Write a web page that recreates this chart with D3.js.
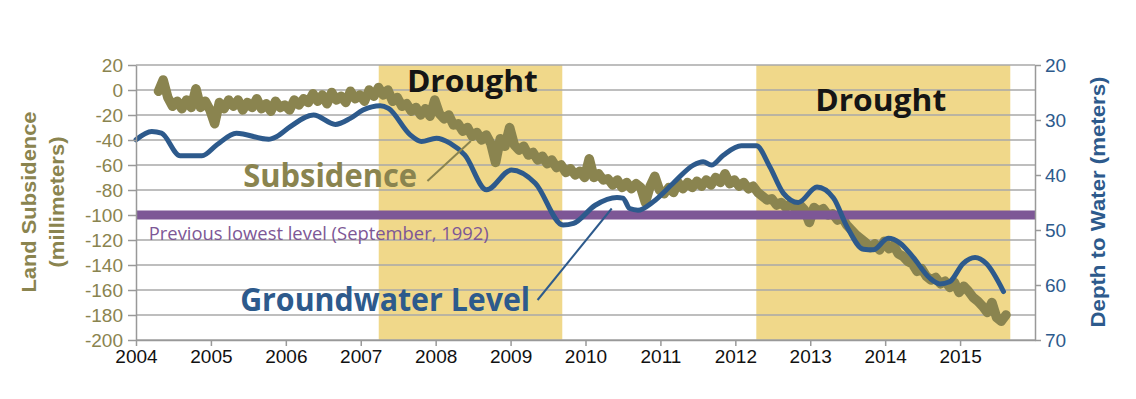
<!DOCTYPE html>
<html>
<head>
<meta charset="utf-8">
<script src="https://cdn.jsdelivr.net/npm/d3@7"></script>
<style>
  html, body { margin: 0; padding: 0; background: #fff; }
  svg { display: block; }
</style>
</head>
<body>
<svg id="chart" width="1136" height="399"></svg>
<script>
// ---------- DATA ----------
const yearTicks = [2004, 2005, 2006, 2007, 2008, 2009, 2010, 2011, 2012, 2013, 2014, 2015];
const leftTicks = [20, 0, -20, -40, -60, -80, -100, -120, -140, -160, -180, -200];
const rightTicks = [20, 30, 40, 50, 60, 70];

const droughtPeriods = [[2007.24, 2009.69], [2012.28, 2015.67]];
const previousLowest = -100; // mm

// Land subsidence (mm) at 1/16-year steps from 2004.30
const subsidenceStart = 2004.30;
const subsidenceStep = 0.0625;
const subsidenceMM = [
  -1, 8, -6, -13, -9, -15, -8, -14, 1, -14, -9, -16, -27, -10, -15, -8,
  -13, -8, -16, -10, -14, -7, -15, -11, -17, -9, -14, -12, -16, -8, -12, -7,
  -10, -3, -9, -4, -11, -2, -8, -5, -10, -1, -7, -4, -9, 0, -5, 2,
  -4, 0, -9, -6, -13, -11, -17, -14, -20, -15, -21, -8, -19, -23, -20, -28,
  -27, -33, -30, -37, -34, -40, -36, -43, -58, -39, -45, -30, -44, -48, -45, -52,
  -50, -56, -53, -59, -56, -62, -60, -66, -63, -68, -65, -70, -55, -70, -67, -72,
  -71, -76, -72, -78, -74, -79, -75, -78, -90, -77, -69, -80, -83, -78, -82, -74,
  -79, -74, -78, -73, -77, -72, -76, -70, -74, -67, -75, -72, -77, -74, -79, -77,
  -82, -85, -88, -87, -92, -90, -94, -91, -95, -92, -96, -106, -94, -97, -95, -100,
  -99, -104, -102, -108, -112, -116, -119, -122, -126, -123, -128, -121, -127, -124, -131, -133,
  -137, -139, -145, -143, -149, -152, -150, -155, -153, -158, -154, -162, -157, -161, -166, -169,
  -173, -178, -170, -182, -185, -180
];

// Groundwater depth to water (m): [year, depth]
const groundwater = [
  [2004.0, 33.6], [2004.21, 32.1], [2004.34, 32.4], [2004.59, 36.5], [2004.88, 36.5],
  [2005.08, 34.5], [2005.34, 32.4], [2005.77, 33.5], [2005.88, 33.0], [2006.06, 31.2],
  [2006.37, 29.1], [2006.66, 30.8], [2006.86, 29.7], [2007.03, 28.2], [2007.26, 27.4],
  [2007.37, 27.9], [2007.66, 32.7], [2007.81, 33.9], [2008.01, 33.3], [2008.19, 34.2],
  [2008.39, 36.4], [2008.68, 42.7], [2009.01, 39.1], [2009.33, 41.5], [2009.70, 49.1],
  [2009.84, 48.8], [2010.13, 45.5], [2010.42, 44.1], [2010.50, 44.2], [2010.59, 46.1],
  [2010.70, 46.4], [2010.90, 44.9], [2011.17, 41.5], [2011.44, 38.2], [2011.57, 37.6],
  [2011.68, 38.2], [2011.84, 36.4], [2012.08, 34.7], [2012.28, 34.7], [2012.46, 38.5],
  [2012.64, 43.3], [2012.84, 45.0], [2013.09, 42.2], [2013.31, 44.2], [2013.49, 49.4],
  [2013.71, 53.5], [2013.84, 53.6], [2014.04, 51.5], [2014.20, 52.4], [2014.37, 54.9],
  [2014.60, 58.8], [2014.73, 59.8], [2014.86, 59.4], [2015.04, 56.1], [2015.20, 55.0],
  [2015.35, 56.1], [2015.58, 61.2]
];

// Labels
const droughtLabels = [[2008.49, -1.6], [2013.94, -16.8]];
const subsidencePointer = [[2007.89, -72.8], [2008.47, -40.8]];
const groundwaterPointer = [[2009.36, -168], [2010.35, -94.8]];

// ---------- STYLES ----------
const OLIVE = "#8a844f";
const BLUE = "#2d5a8c";
const PURPLE = "#7d5796";
const BAND = "#f0d88a";
const GRID = "#a8a8a8";

const svg = d3.select("#chart");
const x = d3.scaleLinear().domain([2004, 2016]).range([136, 1035]);
const yL = d3.scaleLinear().domain([-200, 20]).range([340, 65]);
const yR = d3.scaleLinear().domain([20, 70]).range([65, 340]);

// drought bands
svg.append("g").selectAll("rect").data(droughtPeriods).join("rect")
  .attr("x", d => x(d[0])).attr("width", d => x(d[1]) - x(d[0]))
  .attr("y", yL(20)).attr("height", yL(-200) - yL(20))
  .attr("fill", BAND);

// gridlines
svg.append("g").selectAll("line").data(leftTicks).join("line")
  .attr("x1", x(2004)).attr("x2", x(2016))
  .attr("y1", d => yL(d)).attr("y2", d => yL(d))
  .attr("stroke", GRID).attr("stroke-width", 1.5);

// subsidence
const subs = subsidenceMM.map((v, i) => [subsidenceStart + i * subsidenceStep, v]);
svg.append("path").datum(subs)
  .attr("d", d3.line().x(d => x(d[0])).y(d => yL(d[1])))
  .attr("fill", "none").attr("stroke", OLIVE).attr("stroke-width", 9.5)
  .attr("stroke-linejoin", "round").attr("stroke-linecap", "round");

// previous lowest level
svg.append("line")
  .attr("x1", x(2004)).attr("x2", x(2016))
  .attr("y1", yL(previousLowest)).attr("y2", yL(previousLowest))
  .attr("stroke", PURPLE).attr("stroke-width", 9);

// groundwater
svg.append("path").datum(groundwater)
  .attr("d", d3.line().curve(d3.curveMonotoneX).x(d => x(d[0])).y(d => yR(d[1])))
  .attr("fill", "none").attr("stroke", BLUE).attr("stroke-width", 5)
  .attr("stroke-linejoin", "round").attr("stroke-linecap", "round");

// axes
const axisFont = "'Liberation Sans', Arial, sans-serif";
const gL = svg.append("g").attr("transform", `translate(${x(2004)},0)`)
  .call(d3.axisLeft(yL).tickValues(leftTicks).tickFormat(d => String(d)).tickSize(8).tickSizeOuter(0).tickPadding(5));
gL.selectAll("text").attr("fill", OLIVE).style("font", `19px ${axisFont}`);

const gR = svg.append("g").attr("transform", `translate(${x(2016)},0)`)
  .call(d3.axisRight(yR).tickValues(rightTicks).tickFormat(d => String(d)).tickSize(6).tickSizeOuter(0).tickPadding(4));
gR.selectAll("text").attr("fill", BLUE).style("font", `19px ${axisFont}`);

const gB = svg.append("g").attr("transform", `translate(0,${yL(-200)})`)
  .call(d3.axisBottom(x).tickValues(yearTicks).tickFormat(d => String(d)).tickSize(6).tickSizeOuter(0).tickPadding(4));
gB.selectAll("text").attr("fill", "#111").style("font", `19px ${axisFont}`);

[gL, gR, gB].forEach(g => {
  g.selectAll("path.domain").attr("stroke", "#999").attr("stroke-width", 1.5);
  g.selectAll(".tick line").attr("stroke", "#999").attr("stroke-width", 1.5);
});

// pointers
svg.append("line")
  .attr("x1", x(subsidencePointer[0][0])).attr("y1", yL(subsidencePointer[0][1]))
  .attr("x2", x(subsidencePointer[1][0])).attr("y2", yL(subsidencePointer[1][1]))
  .attr("stroke", OLIVE).attr("stroke-width", 2);
svg.append("line")
  .attr("x1", x(groundwaterPointer[0][0])).attr("y1", yL(groundwaterPointer[0][1]))
  .attr("x2", x(groundwaterPointer[1][0])).attr("y2", yL(groundwaterPointer[1][1]))
  .attr("stroke", BLUE).attr("stroke-width", 2);

// text labels
const labelFont = "'Open Sans', 'Noto Sans', sans-serif";
svg.append("g").selectAll("text").data(droughtLabels).join("text")
  .attr("x", d => x(d[0])).attr("y", d => yL(d[1]))
  .attr("text-anchor", "middle")
  .attr("textLength", 131).attr("lengthAdjust", "spacingAndGlyphs")
  .style("font", `bold 31px ${labelFont}`).attr("fill", "#151515")
  .text("Drought");

svg.append("text")
  .attr("x", x(2005.43)).attr("y", yL(-77.6))
  .attr("textLength", 174).attr("lengthAdjust", "spacingAndGlyphs")
  .style("font", `bold 32px ${labelFont}`).attr("fill", OLIVE)
  .text("Subsidence");

svg.append("text")
  .attr("x", x(2005.39)).attr("y", yL(-176.8))
  .attr("textLength", 290).attr("lengthAdjust", "spacingAndGlyphs")
  .style("font", `bold 32px ${labelFont}`).attr("fill", BLUE)
  .text("Groundwater Level");

svg.append("text")
  .attr("x", x(2004.17)).attr("y", yL(-119.6))
  .attr("textLength", 340).attr("lengthAdjust", "spacingAndGlyphs")
  .style("font", `18px ${labelFont}`).attr("fill", PURPLE)
  .text("Previous lowest level (September, 1992)");

// axis titles
const titleFont = "'Liberation Sans', Arial, sans-serif";
svg.append("text")
  .attr("transform", "translate(29,202) rotate(-90)")
  .attr("text-anchor", "middle").attr("dominant-baseline", "central")
  .attr("textLength", 181).attr("lengthAdjust", "spacingAndGlyphs")
  .style("font", `bold 20px ${titleFont}`).attr("fill", OLIVE)
  .text("Land Subsidence");
svg.append("text")
  .attr("transform", "translate(57,202) rotate(-90)")
  .attr("text-anchor", "middle").attr("dominant-baseline", "central")
  .attr("textLength", 131).attr("lengthAdjust", "spacingAndGlyphs")
  .style("font", `bold 20px ${titleFont}`).attr("fill", OLIVE)
  .text("(millimeters)");
svg.append("text")
  .attr("transform", "translate(1098,202) rotate(-90)")
  .attr("text-anchor", "middle").attr("dominant-baseline", "central")
  .attr("textLength", 251).attr("lengthAdjust", "spacingAndGlyphs")
  .style("font", `bold 20px ${titleFont}`).attr("fill", BLUE)
  .text("Depth to Water (meters)");
</script>
</body>
</html>
